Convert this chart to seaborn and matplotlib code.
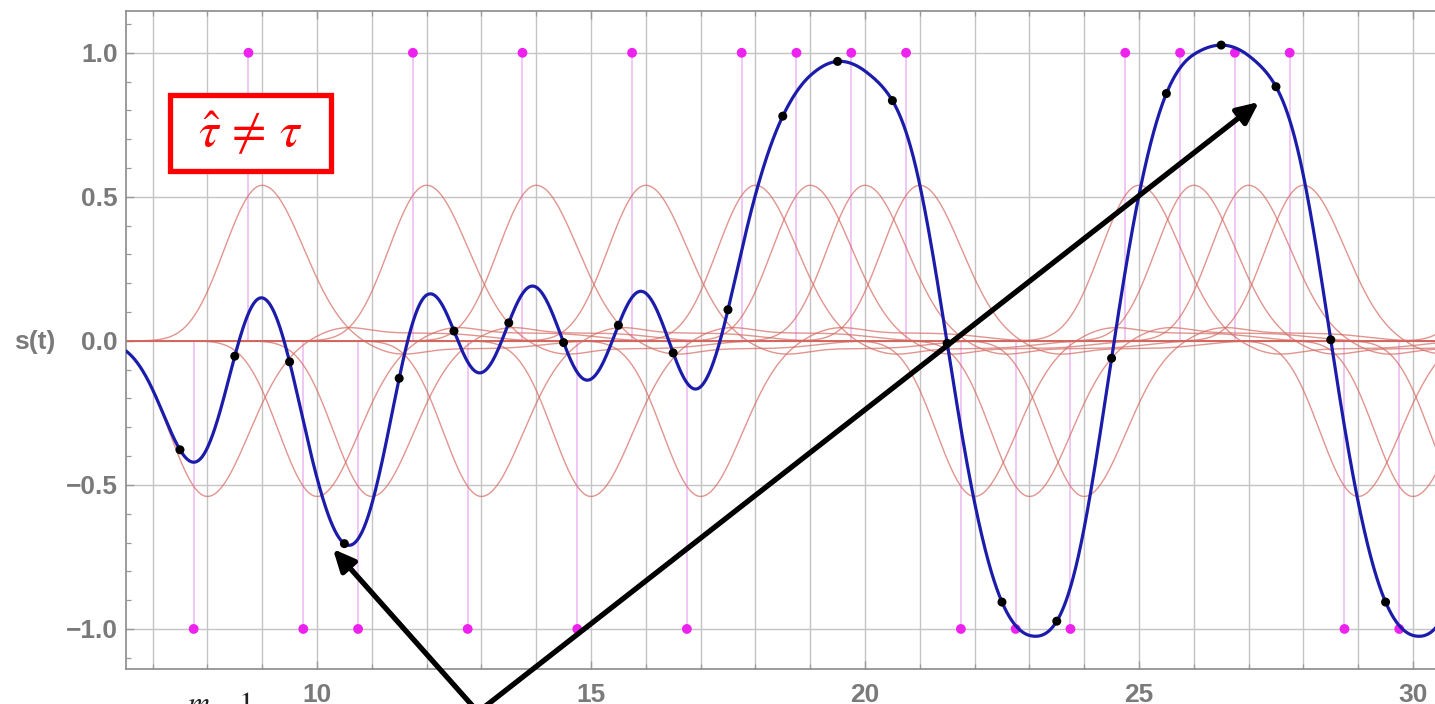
import numpy as np
import pandas as pd
import matplotlib
matplotlib.use("Agg")
import matplotlib.pyplot as plt
from matplotlib.patches import Rectangle
from matplotlib.ticker import MultipleLocator, FixedLocator, FixedFormatter
import seaborn as sns

# Transmitted symbols: time instant and +/-1 amplitude
symbol_times = [7.75, 8.75, 9.75, 10.75, 11.75, 12.75, 13.75, 14.75, 15.75,
                16.75, 17.75, 18.75, 19.75, 20.75, 21.75, 22.75, 23.75, 24.75,
                25.75, 26.75, 27.75, 28.75, 29.75, 30.75, 31.75]
symbol_values = [-1, 1, -1, -1, 1, -1, 1, -1, 1,
                 -1, 1, 1, 1, 1, -1, -1, -1, 1,
                 1, 1, 1, -1, -1, -1, 1]

# Channel delay of every pulse relative to its symbol
tau = 0.25
# Received pulse: steep leading edge, trailing edge followed by an undershoot
pulse_peak = 0.54
lead_decay, lead_quartic = 1.073, 0.0756
trail_decay = 0.9
shelf_depth, shelf_center, shelf_width = 0.05, 3.4, 1.9
dip_depth, dip_center, dip_width = 0.04, 2.5, 0.6

# Receiver sampling instants (estimated timing)
sample_times = [7.5, 8.5, 9.5, 10.5, 11.5, 12.5, 13.5, 14.5, 15.5, 16.5,
                17.5, 18.5, 19.5, 20.5, 21.5, 22.5, 23.5, 24.5, 25.5, 26.5,
                27.5, 28.5, 29.5]

x_major = [10, 15, 20, 25, 30]
y_major = [-1.0, -0.5, 0.0, 0.5, 1.0]
y_major_labels = ["\u22121.0", "\u22120.5", "0.0", "0.5", "1.0"]


def pulse(t):
    lead = np.exp(-lead_decay * t ** 2 - lead_quartic * t ** 4)
    undershoot = (shelf_depth * np.exp(-((t - shelf_center) / shelf_width) ** 4)
                  + dip_depth * np.exp(-((t - dip_center) / dip_width) ** 2))
    trail = np.exp(-trail_decay * t ** 2) - undershoot
    return pulse_peak * np.where(t < 0, lead, trail)


t = np.linspace(6.3, 31.3, 3000)
centers = np.asarray(symbol_times) + tau
amps = np.asarray(symbol_values, dtype=float)
components = amps[:, None] * pulse(t[None, :] - centers[:, None])
signal = components.sum(axis=0)

samples = np.asarray(sample_times)
sample_vals = (amps[:, None] * pulse(samples[None, :] - centers[:, None])).sum(axis=0)

pulses_df = pd.DataFrame({
    "t": np.tile(t, len(centers)),
    "value": components.ravel(),
    "k": np.repeat(np.arange(len(centers)), len(t)),
})

sns.set_theme(style="white")
plt.rcParams["font.family"] = ["Liberation Sans", "DejaVu Sans"]
plt.rcParams["mathtext.fontset"] = "stix"

W, H = 1435, 704
fig = plt.figure(figsize=(W / 100, H / 100), dpi=100, facecolor="white")
px_per_unit = 54.8
ax = fig.add_axes([126 / W, 35 / H, 1342 / W, 658 / H])
ax.set_xlim(6.515, 6.515 + 1342 / px_per_unit)
ax.set_ylim(-1.139, 1.145)

# grid: every integer vertically, every 0.5 horizontally
ax.xaxis.set_major_locator(FixedLocator(x_major))
ax.xaxis.set_minor_locator(MultipleLocator(1))
ax.yaxis.set_major_locator(FixedLocator(y_major))
ax.yaxis.set_major_formatter(FixedFormatter(y_major_labels))
ax.yaxis.set_minor_locator(MultipleLocator(0.1))
ax.grid(which="both", axis="x", color="#c4c4c4", lw=1.0, zorder=0)
ax.grid(which="major", axis="y", color="#c4c4c4", lw=1.0, zorder=0)
ax.set_axisbelow(True)

# symbol stems
ax.vlines(symbol_times, 0, symbol_values, colors="#ebb8f0", lw=1.1, zorder=1)
ax.axhline(0, color="#5c5c5c", lw=1.3, zorder=1.5)

# individual pulses
sns.lineplot(data=pulses_df, x="t", y="value", units="k", estimator=None,
             color="#d4685f", lw=1.0, alpha=0.7, legend=False, sort=False,
             ax=ax, zorder=2)

# symbol markers
sns.scatterplot(x=symbol_times, y=symbol_values, color="#ee22ee", s=50,
                edgecolor="none", ax=ax, zorder=2.8)

# received signal
sns.lineplot(x=t, y=signal, color="#1c1cab", lw=2.3, ax=ax, zorder=3,
             sort=False)

# samples
sns.scatterplot(x=samples, y=sample_vals, color="black", s=42,
                edgecolor="none", ax=ax, zorder=4)

ax.set_xlabel("")
ax.set_ylabel("s(t)", rotation=0, ha="right", va="center",
              fontsize=19, fontweight="bold", color="#7a7a7a")
ax.yaxis.set_label_coords(-0.0529, 0.497)

for side in ["left", "bottom", "top"]:
    ax.spines[side].set_visible(True)
    ax.spines[side].set_color("#8a8a8a")
    ax.spines[side].set_linewidth(1.2)
ax.spines["right"].set_visible(False)

ax.tick_params(which="both", direction="in", color="#9a9a9a",
               top=True, right=False, left=True, bottom=True)
ax.tick_params(which="major", length=6, width=1.0)
ax.tick_params(which="minor", length=3.5, width=0.9)
ax.tick_params(axis="x", which="major", pad=10, labelsize=19,
               labelcolor="#7a7a7a")
ax.tick_params(axis="y", which="major", pad=6, labelsize=19,
               labelcolor="#7a7a7a")
for lab in ax.get_xticklabels() + ax.get_yticklabels():
    lab.set_fontweight("bold")

# timing-mismatch box
x0, y0, x1, y1 = 169.5, 95.5, 330.5, 170.5
fig.add_artist(Rectangle((x0 / W, 1 - y1 / H), (x1 - x0) / W, (y1 - y0) / H,
                         transform=fig.transFigure, facecolor="white",
                         edgecolor="#ff0000", lw=3.8, zorder=10))
fig.text(250 / W, 1 - 134 / H, r"$\hat{\tau}\,\neq\,\tau$", color="#ff0000",
         fontsize=36, ha="center", va="center", zorder=11)

# label under the plot
fig.text(187 / W, (H - 713) / H, r"$m-1$", color="#222222", fontsize=22,
         ha="left", va="baseline")

# pointer arrows
arrow_kw = dict(arrowstyle="-|>,head_length=0.65,head_width=0.3",
                color="black", lw=3.8, mutation_scale=20,
                shrinkA=0, shrinkB=0)
ax.annotate("", xy=(333, H - 549), xycoords="figure pixels",
            xytext=(478, H - 712), textcoords="figure pixels",
            arrowprops=arrow_kw, annotation_clip=False, zorder=12)
ax.annotate("", xy=(1259, H - 102), xycoords="figure pixels",
            xytext=(478, H - 712), textcoords="figure pixels",
            arrowprops=arrow_kw, annotation_clip=False, zorder=12)

fig.savefig("out.png", dpi=100, facecolor="white")
